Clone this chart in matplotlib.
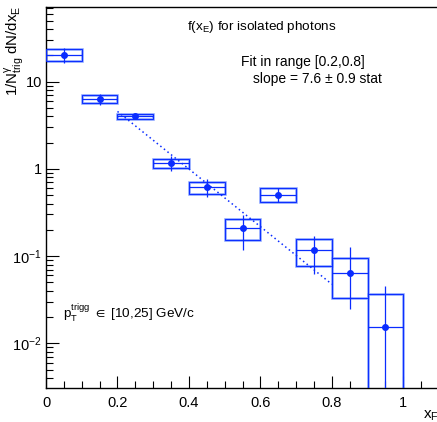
import numpy as np
import matplotlib
matplotlib.use("Agg")
import matplotlib.pyplot as plt
from matplotlib.patches import Rectangle
from matplotlib.ticker import FixedLocator, FuncFormatter, MultipleLocator, LogLocator, NullFormatter

plt.rcParams['font.family'] = ['Liberation Sans', 'DejaVu Sans']
plt.rcParams['mathtext.fontset'] = 'custom'
plt.rcParams['mathtext.rm'] = 'Liberation Sans'
plt.rcParams['mathtext.it'] = 'Liberation Sans'
plt.rcParams['mathtext.fallback'] = 'stixsans'

# data
xE = [0.05, 0.15, 0.25, 0.35, 0.45, 0.55, 0.65, 0.75, 0.85, 0.95]
xerr = [0.05] * 10
yval = [20.2, 6.35, 4.02, 1.17, 0.614, 0.209, 0.508, 0.116, 0.0644, 0.0153]
stat_hi = [24.1, 7.2, 4.15, 1.39, 0.76, 0.295, 0.60, 0.169, 0.128, 0.0457]
stat_lo = [16.2, 5.4, 3.9, 0.95, 0.47, 0.119, 0.42, 0.0622, 0.0245, 0.001]
sys_hi = [23.5, 7.0, 4.3, 1.29, 0.70, 0.263, 0.606, 0.156, 0.0956, 0.0367]
sys_lo = [17.3, 5.66, 3.72, 1.03, 0.51, 0.154, 0.419, 0.0763, 0.0331, 0.001]
fit_range = [0.2, 0.8]
fit_norm = 20.8
fit_slope = 7.6

blue = '#0a2cff'
light = '#7f9aff'

fig = plt.figure(figsize=(4.37, 4.22), dpi=100)
ax = fig.add_axes([0.1053, 0.0806, 0.8995, 0.9028])

for x, dx, lo, hi in zip(xE, xerr, sys_lo, sys_hi):
    ax.add_patch(Rectangle((x - dx, lo), 2 * dx, hi - lo, fill=False,
                           edgecolor=light, lw=1.8, zorder=2))
    ax.add_patch(Rectangle((x - dx, lo), 2 * dx, hi - lo, fill=False,
                           edgecolor=blue, lw=0.7, zorder=3))

y = np.array(yval)
ax.errorbar(xE, yval, xerr=xerr,
            yerr=[y - np.array(stat_lo), np.array(stat_hi) - y],
            fmt='o', color=blue, ms=4, elinewidth=0.9, capsize=0, zorder=4)

xf = np.linspace(fit_range[0], fit_range[1], 100)
ax.plot(xf, fit_norm * np.exp(-fit_slope * xf), ls=(0, (1.0, 2.0)),
        color=blue, lw=1.1, zorder=3)

ax.set_yscale('log')
ax.set_xlim(0, 1.1)
ax.set_ylim(3.08e-3, 71.6)

ax.xaxis.set_major_locator(MultipleLocator(0.2))
ax.xaxis.set_minor_locator(MultipleLocator(0.05))
ax.xaxis.set_major_formatter(FuncFormatter(lambda v, p: '0' if abs(v) < 1e-9 else ('1' if abs(v - 1) < 1e-9 else f'{v:.1f}')))

def yfmt(v, p):
    e = int(round(np.log10(v)))
    if e == 0:
        return '1'
    if e == 1:
        return '10'
    return r'$10^{%d}$' % e
ax.yaxis.set_major_locator(FixedLocator([1e-2, 1e-1, 1, 10]))
ax.yaxis.set_major_formatter(FuncFormatter(yfmt))
ax.yaxis.set_minor_locator(LogLocator(base=10, subs=np.arange(2, 10)))
ax.yaxis.set_minor_formatter(NullFormatter())

ax.tick_params(which='both', direction='in', top=False, right=False, labelsize=10.5)
ax.tick_params(which='major', length=9, width=0.8)
ax.tick_params(which='minor', length=5, width=0.8)
ax.tick_params(axis='x', pad=6)
ax.tick_params(axis='y', pad=3)

for s in ax.spines.values():
    s.set_linewidth(1.0)

ax.text(1.0, -0.055, r'x$_{\mathregular{F}}$', transform=ax.transAxes,
        ha='right', va='top', fontsize=11)
fig.text(0.033, 0.988, r'1/N$^{\gamma}_{\mathregular{trig}}$ dN/dx$_{\mathregular{E}}$',
         rotation=90, ha='center', va='top', fontsize=10.8)

ax.text(0.549, 0.947, r'f(x$_{\mathregular{E}}$) for isolated photons',
        transform=ax.transAxes, ha='center', va='center', fontsize=9.7)
ax.text(0.654, 0.856, 'Fit in range [0.2,0.8]', transform=ax.transAxes,
        ha='center', va='center', fontsize=10)
ax.text(0.690, 0.811, 'slope = 7.6 \u00b1 0.9 stat', transform=ax.transAxes,
        ha='center', va='center', fontsize=10)
ax.text(0.043, 0.197, r'p$_{\mathregular{T}}^{\mathregular{trigg}}$ $\in$ [10,25] GeV/c',
        transform=ax.transAxes, ha='left', va='center', fontsize=9.7)

fig.savefig('out.png', dpi=100)
